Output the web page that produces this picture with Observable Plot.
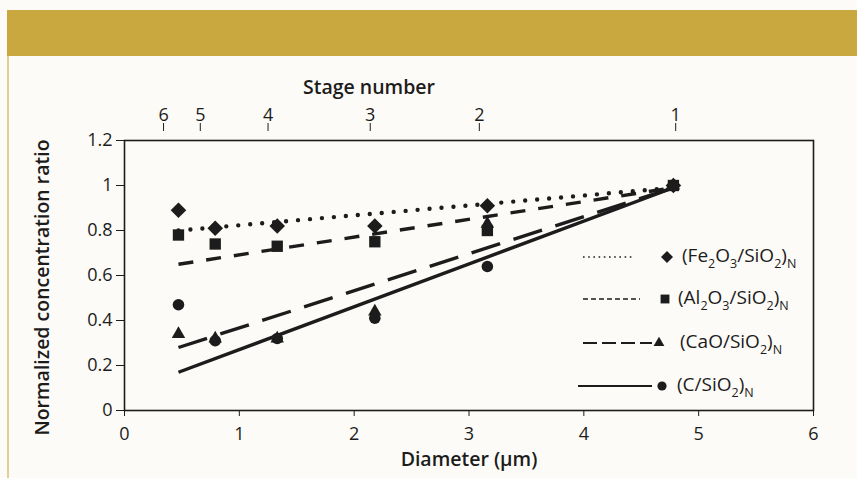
<!DOCTYPE html>
<html><head><meta charset="utf-8">
<script src="https://cdn.jsdelivr.net/npm/d3@7"></script>
<script src="https://cdn.jsdelivr.net/npm/@observablehq/plot@0.6"></script>
<style>
html,body{margin:0;padding:0;background:#fcfbf7;width:857px;height:478px;overflow:hidden;font-family:"Open Sans",sans-serif;color:#1c1c1c}
#banner{position:absolute;left:7px;top:10px;width:850px;height:46px;background:#c9a83f}
#rule{position:absolute;left:7px;top:56px;width:1.5px;height:422px;background:#e3cf95}
#chart{position:absolute;left:0;top:56px}
#legend{position:absolute;left:0;top:0;pointer-events:none}
.lg{position:absolute;font-size:19px;line-height:22px;white-space:nowrap;color:#1c1c1c}
.lg sub{font-size:12.5px;vertical-align:-6px;line-height:0}
</style></head><body>
<div id="banner"></div><div id="rule"></div><div id="chart"></div>
<svg id="legend" width="857" height="478"></svg>
<script>
// ---- data ----
const diameter = [0.47, 0.79, 1.33, 2.18, 3.16, 4.78];
const fe2o3 = [0.89, 0.81, 0.82, 0.82, 0.91, 1.0];
const al2o3 = [0.78, 0.74, 0.73, 0.75, 0.80, 1.0];
const cao = [0.34, 0.32, 0.32, 0.44, 0.83, 1.0];
const carbon = [0.47, 0.31, 0.32, 0.41, 0.64, 1.0];

const trendX = [0.47, 4.78];
const fe2o3Trend = [0.80, 0.99];
const al2o3Trend = [0.65, 0.99];
const caoTrend = [0.28, 0.99];
const carbonTrend = [0.17, 0.99];

const stageTicks = [0.34, 0.66, 1.25, 2.14, 3.09, 4.80];
const stageLabels = ["6", "5", "4", "3", "2", "1"];
const xTicks = [0, 1, 2, 3, 4, 5, 6];
const xTickLabels = ["0", "1", "2", "3", "4", "5", "6"];
const yTicks = [0, 0.2, 0.4, 0.6, 0.8, 1, 1.2];
const yTickLabels = ["0", "0.2", "0.4", "0.6", "0.8", "1", "1.2"];

const xTitle = "Diameter (µm)";
const topTitle = "Stage number";
const yTitle = "Normalized concentration ratio";
const seriesNames = [
  "(Fe<sub>2</sub>O<sub>3</sub>/SiO<sub>2</sub>)<sub>N</sub>",
  "(Al<sub>2</sub>O<sub>3</sub>/SiO<sub>2</sub>)<sub>N</sub>",
  "(CaO/SiO<sub>2</sub>)<sub>N</sub>",
  "(C/SiO<sub>2</sub>)<sub>N</sub>"
];

// ---- styles ----
const ink = "#1c1c1c";
const series = [
  {y: fe2o3, trend: fe2o3Trend, symbol: "diamond2", r: 7, dash: "0 12", w: 4.4, cap: "round",
   lgDash: "1.6 3.6", lgW: 1.7, lgX1: 583, lgX2: 633, mx: 667, mr: 5.4, tx: 682, ly: 257},
  {y: al2o3, trend: al2o3Trend, symbol: "square", r: 6.4, dash: "15 13", w: 3.4, cap: "butt",
   lgDash: "5 3", lgW: 1.7, lgX1: 583, lgX2: 640, mx: 665, mr: 5, tx: 678, ly: 299},
  {y: cao, trend: caoTrend, symbol: "triangle", r: 5, dash: "30 14", w: 3.4, cap: "butt",
   lgDash: "14 5", lgW: 1.9, lgX1: 583, lgX2: 652, mx: 659, mr: 4, tx: 680, ly: 343},
  {y: carbon, trend: carbonTrend, symbol: "circle", r: 5.8, dash: null, w: 3.4, cap: "butt",
   lgDash: null, lgW: 1.9, lgX1: 578, lgX2: 652, mx: 662, mr: 4.6, tx: 677, ly: 386}
];

const stageMap = new Map(stageTicks.map((t, i) => [t, stageLabels[i]]));
const xMap = new Map(xTicks.map((t, i) => [t, xTickLabels[i]]));
const yMap = new Map(yTicks.map((t, i) => [t, yTickLabels[i]]));

const marks = [];
series.forEach(s => {
  marks.push(Plot.line(trendX.map((x, i) => ({x, y: s.trend[i]})), {
    x: "x", y: "y", stroke: ink, strokeWidth: s.w,
    strokeDasharray: s.dash || undefined, strokeLinecap: s.cap
  }));
});
series.forEach(s => {
  marks.push(Plot.dot(diameter.map((x, i) => ({x, y: s.y[i]})), {
    x: "x", y: "y", symbol: s.symbol, r: s.r, fill: ink, stroke: "none"
  }));
});

const chart = Plot.plot({
  width: 857, height: 422,
  marginTop: 84, marginBottom: 68, marginLeft: 124, marginRight: 44,
  x: {domain: [0, 6]},
  y: {domain: [0, 1.2]},
  style: {background: "transparent", color: ink, fontFamily: "Open Sans, sans-serif"},
  marks: [
    Plot.axisX({anchor: "bottom", ticks: xTicks, tickFormat: d => xMap.get(d), tickSize: 6, tickPadding: 11,
      fontSize: 18, label: null}),
    Plot.axisX({anchor: "top", ticks: stageTicks, tickFormat: d => stageMap.get(d), tickSize: 8,
      tickPadding: 2, dy: -10, fontSize: 18, label: null}),
    Plot.axisY({ticks: yTicks, tickFormat: d => yMap.get(d), tickSize: 8, tickPadding: 4, fontSize: 18,
      label: null}),
    Plot.text([xTitle], {text: d => d, frameAnchor: "bottom", dy: 55, fontSize: 19.5, fontWeight: 600}),
    Plot.text([topTitle], {text: d => d, frameAnchor: "top", dy: -60, dx: -100, fontSize: 19.5, fontWeight: 600}),
    Plot.text([yTitle], {text: d => d, frameAnchor: "left", textAnchor: "middle", lineAnchor: "middle",
      rotate: -90, dx: -82, dy: 12, fontSize: 19.5, fontWeight: 600}),
    ...marks,
    Plot.frame({stroke: ink, strokeWidth: 1.6})
  ]
});
document.getElementById("chart").appendChild(chart);

// ---- legend ----
const lg = d3.select("#legend");
const symMap = {diamond2: d3.symbolDiamond2, square: d3.symbolSquare, triangle: d3.symbolTriangle, circle: d3.symbolCircle};
series.forEach((s, i) => {
  const line = lg.append("line").attr("x1", s.lgX1).attr("x2", s.lgX2).attr("y1", s.ly).attr("y2", s.ly)
    .attr("stroke", ink).attr("stroke-width", s.lgW);
  if (s.lgDash) line.attr("stroke-dasharray", s.lgDash);
  lg.append("path").attr("transform", `translate(${s.mx},${s.ly})`)
    .attr("d", d3.symbol(symMap[s.symbol], Math.PI * s.mr * s.mr)()).attr("fill", ink);
  const div = document.createElement("div");
  div.className = "lg";
  div.style.left = s.tx + "px";
  div.style.top = (s.ly - 13) + "px";
  div.innerHTML = seriesNames[i];
  document.body.appendChild(div);
});
</script>
</body></html>
